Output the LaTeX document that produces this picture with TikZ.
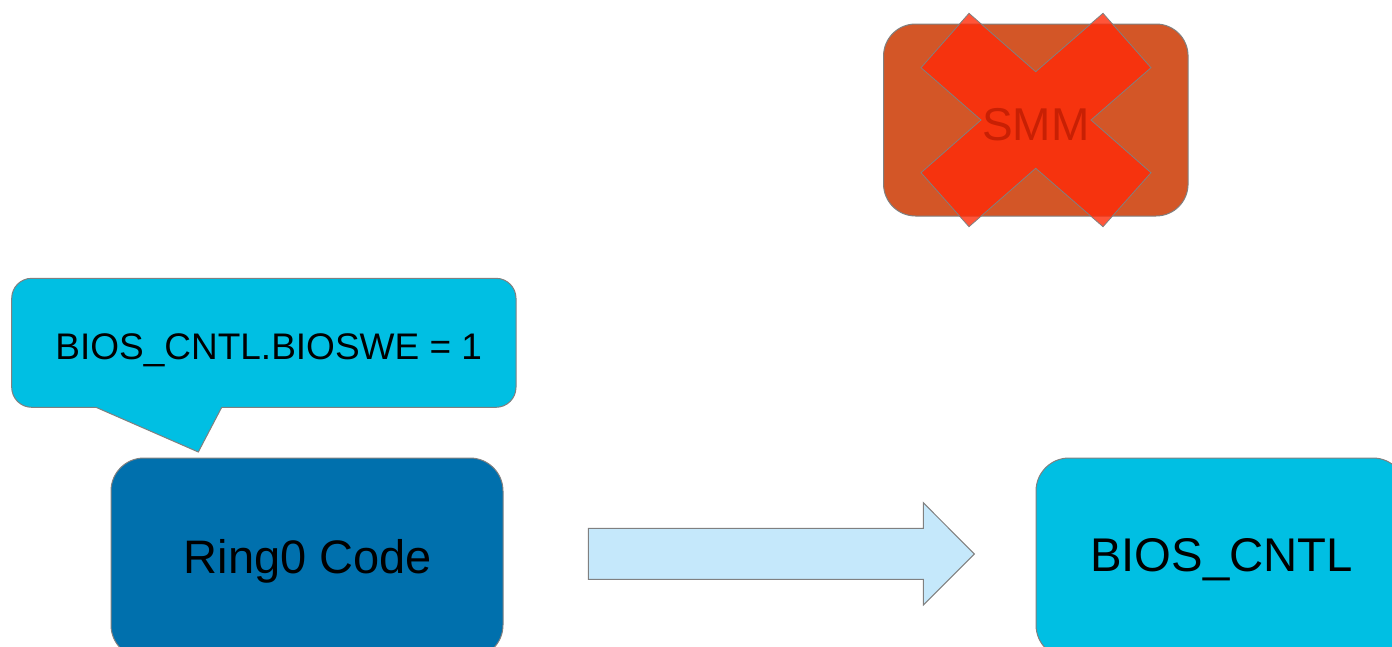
\documentclass[tikz,border=0pt]{standalone}
\usepackage{fontspec}
\setmainfont{Liberation Sans}
\begin{document}
\definecolor{edgegray}{RGB}{128,128,128}
\definecolor{smmfill}{RGB}{211,86,39}
\definecolor{crossred}{RGB}{255,43,8}
\definecolor{smmtext}{RGB}{200,32,4}
\definecolor{cyanbox}{RGB}{0,191,227}
\definecolor{ringblue}{RGB}{0,112,173}
\definecolor{arrowfill}{RGB}{197,232,251}
\begin{tikzpicture}[x=1pt,y=-1pt,
  roundbox/.style={draw=edgegray, line width=1pt, rounded corners=#1, inner sep=0pt},
  roundbox/.default=30pt,
  label70/.style={anchor=base, inner sep=0pt, text=black}]
\useasboundingbox (0,0) rectangle (1392,646);
\clip (0,0) rectangle (1392,646);

% SMM box with a translucent cross over it
\node[roundbox=32pt, fill=smmfill, minimum width=304.5pt, minimum height=192pt] (smm) at (1035.8,120) {};
\path[fill=crossred, fill opacity=0.8, draw=edgegray, line width=0.8pt]
  (969,13.3) -- (1035.7,71.7) -- (1103,13.3) -- (1151,67.7) -- (1091,120)
  -- (1151,172.7) -- (1103,226.7) -- (1035.7,168.3) -- (969,226.7)
  -- (921,172.7) -- (981,120) -- (921,67.7) -- cycle;
\node[label70, text=smmtext, font=\fontsize{46}{55}\selectfont] (smmtext) at (1035.8,140) {SMM};

% speech bubble
\node[roundbox=20pt, fill=cyanbox, minimum width=504.3pt, minimum height=129pt] (note) at (263.85,342.8) {};
\fill[cyanbox] (96,404) -- (96,407.3) -- (198.3,452) -- (221.7,407.3) -- (221.7,404) -- cycle;
\draw[edgegray, line width=1pt, line join=miter] (96,407.3) -- (198.3,452) -- (221.7,407.3);
\node[label70, font=\fontsize{37}{44}\selectfont] (notetext) at (268.7,359) {BIOS\_CNTL.BIOSWE = 1};

% code box
\node[roundbox=33pt, fill=ringblue, minimum width=392pt, minimum height=200pt] (ring) at (307,558) {};
\node[label70, font=\fontsize{47}{56}\selectfont] (ringtext) at (308,573) {Ring0 Code};

% register box
\node[roundbox=33pt, fill=cyanbox, minimum width=370pt, minimum height=200pt] (bios) at (1221,558) {};
\node[label70, font=\fontsize{47.3}{56}\selectfont] (biostext) at (1221.5,571.7) {BIOS\_CNTL};

% block arrow from code to register
\draw[edgegray, fill=arrowfill, line width=1pt]
  (588.3,528.3) -- (923.3,528.3) -- (923.3,502.7) -- (974.3,554)
  -- (923.3,605) -- (923.3,579.3) -- (588.3,579.3) -- cycle;
\end{tikzpicture}
\end{document}
